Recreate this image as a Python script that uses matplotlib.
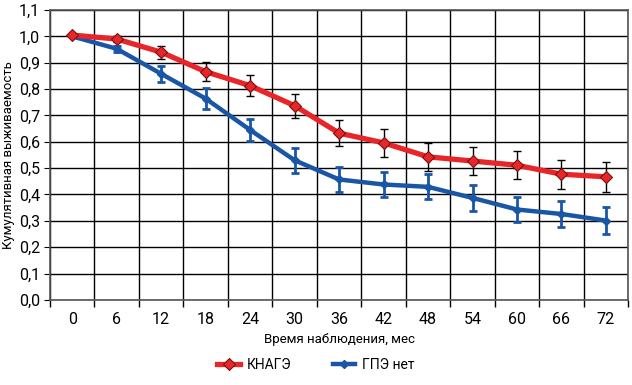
import matplotlib
matplotlib.use("Agg")
import matplotlib.pyplot as plt
from matplotlib.ticker import FuncFormatter
import numpy as np

plt.rcParams['font.family'] = ['Roboto', 'DejaVu Sans']

months = [0, 6, 12, 18, 24, 30, 36, 42, 48, 54, 60, 66, 72]
knage = [1.005, 0.99, 0.94, 0.866, 0.813, 0.737, 0.633, 0.596, 0.543, 0.527, 0.511, 0.477, 0.467]
knage_err = [0.0, 0.01, 0.024, 0.035, 0.04, 0.045, 0.05, 0.052, 0.054, 0.054, 0.054, 0.055, 0.058]
gpe = [1.0, 0.953, 0.858, 0.764, 0.645, 0.53, 0.457, 0.438, 0.429, 0.387, 0.343, 0.326, 0.301]
gpe_err = [0.0, 0.012, 0.03, 0.04, 0.043, 0.047, 0.048, 0.047, 0.047, 0.049, 0.049, 0.05, 0.052]
yticks = [0.0, 0.1, 0.2, 0.3, 0.4, 0.5, 0.6, 0.7, 0.8, 0.9, 1.0, 1.1]

red = "#e8262a"
blue = "#1a56a6"

fig = plt.figure(figsize=(6.32, 3.85), dpi=100)
ax = fig.add_axes([0.079, 0.221, 0.915, 0.753])

x = np.arange(len(months))

# error bars first so lines sit on top
ax.errorbar(x, knage, yerr=knage_err, fmt="none", ecolor="black", elinewidth=1, capsize=3, capthick=1, zorder=3)
ax.errorbar(x, gpe, yerr=gpe_err, fmt="none", ecolor=blue, elinewidth=2, capsize=3, capthick=2, zorder=3)

ax.plot(x, gpe, color=blue, lw=3.2, marker="D", ms=4, mfc=blue, mec=blue, label="ГПЭ нет", zorder=4)
ax.plot(x, knage, color=red, lw=3.8, marker="D", ms=6, mfc=red, mec="#7a1010", mew=0.8, label="КНАГЭ", zorder=5)

ax.set_xlim(-0.5, len(months) - 0.5)
ax.set_ylim(0, 1.1)
ax.set_xticks(x)
ax.set_xticklabels([str(m) for m in months], fontsize=11.5)
ax.set_xticks(np.arange(-0.5, len(months)), minor=True)
ax.tick_params(axis="x", which="major", length=0, pad=9)
ax.tick_params(axis="x", which="minor", length=5, width=1)
ax.set_yticks(yticks)
ax.yaxis.set_major_formatter(FuncFormatter(lambda v, p: ("%.1f" % v).replace(".", ",")))
ax.tick_params(axis="y", length=4, labelsize=11.5, pad=3)

ax.grid(True, axis="y", which="major", color="black", lw=1)
ax.grid(True, axis="x", which="minor", color="black", lw=1)
for s in ax.spines.values():
    s.set_color("#555555")
    s.set_linewidth(1.2)

ax.set_ylabel("Кумулятивная выживаемость", fontsize=9.5, labelpad=3)
ax.set_xlabel("Время наблюдения, мес", fontsize=9.5, labelpad=4)

handles, labels = ax.get_legend_handles_labels()
fig.legend(handles[::-1], labels[::-1], loc="center", bbox_to_anchor=(0.5, 0.052), ncol=2,
           frameon=False, fontsize=10, handlelength=1.6, handletextpad=0.5, columnspacing=3.0)

fig.savefig("out.png", dpi=100)
